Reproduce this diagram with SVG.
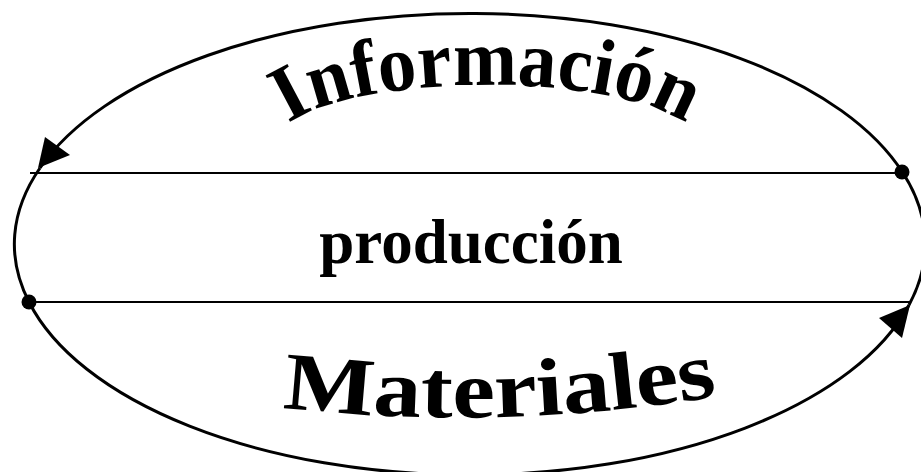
<svg xmlns="http://www.w3.org/2000/svg" width="921" height="472" viewBox="0 0 921 472">
<style>
.arc{fill:none;stroke:#000;stroke-width:3}
.line{stroke:#000;stroke-width:1.8}
.head{fill:#000}
.dot{fill:#000}
.lbl{font-family:"Liberation Serif","Times New Roman",serif;font-weight:bold;fill:#000}
</style>
<defs>
<path id="pInfo" d="M 277,143 A 210,58 0 0 1 697,143"/>
<path id="pMat" d="M 270,406 Q 500,434 730,394"/>
</defs>
<g id="connectors">
<path class="arc" d="M 903,173 A 455,230 0 0 0 40,168"/>
<path class="arc" d="M 40,168 A 455,230 0 0 0 29,302"/>
<path class="arc" d="M 29,302 A 455,230 0 0 0 909,305"/>
<path class="arc" d="M 909,305 A 455,230 0 0 0 903,173"/>
<line class="line" x1="30" y1="173" x2="902" y2="173"/>
<line class="line" x1="29" y1="302" x2="910" y2="302"/>
<polygon class="head" points="38,168 45,137 70,155"/>
<polygon class="head" points="910,305 879,318 902,338"/>
<circle class="dot" cx="902" cy="172" r="7.5"/>
<circle class="dot" cx="29" cy="302" r="7.5"/>
</g>
<g id="informacion">
<text class="lbl" font-size="80"><textPath href="#pInfo" startOffset="50%" text-anchor="middle" textLength="410" lengthAdjust="spacingAndGlyphs">Información</textPath></text>
</g>
<g id="produccion">
<text class="lbl" x="471" y="263" font-size="63" text-anchor="middle">producción</text>
</g>
<g id="materiales">
<text class="lbl" font-size="82"><textPath href="#pMat" startOffset="50%" text-anchor="middle" textLength="437" lengthAdjust="spacingAndGlyphs">Materiales</textPath></text>
</g>
</svg>
